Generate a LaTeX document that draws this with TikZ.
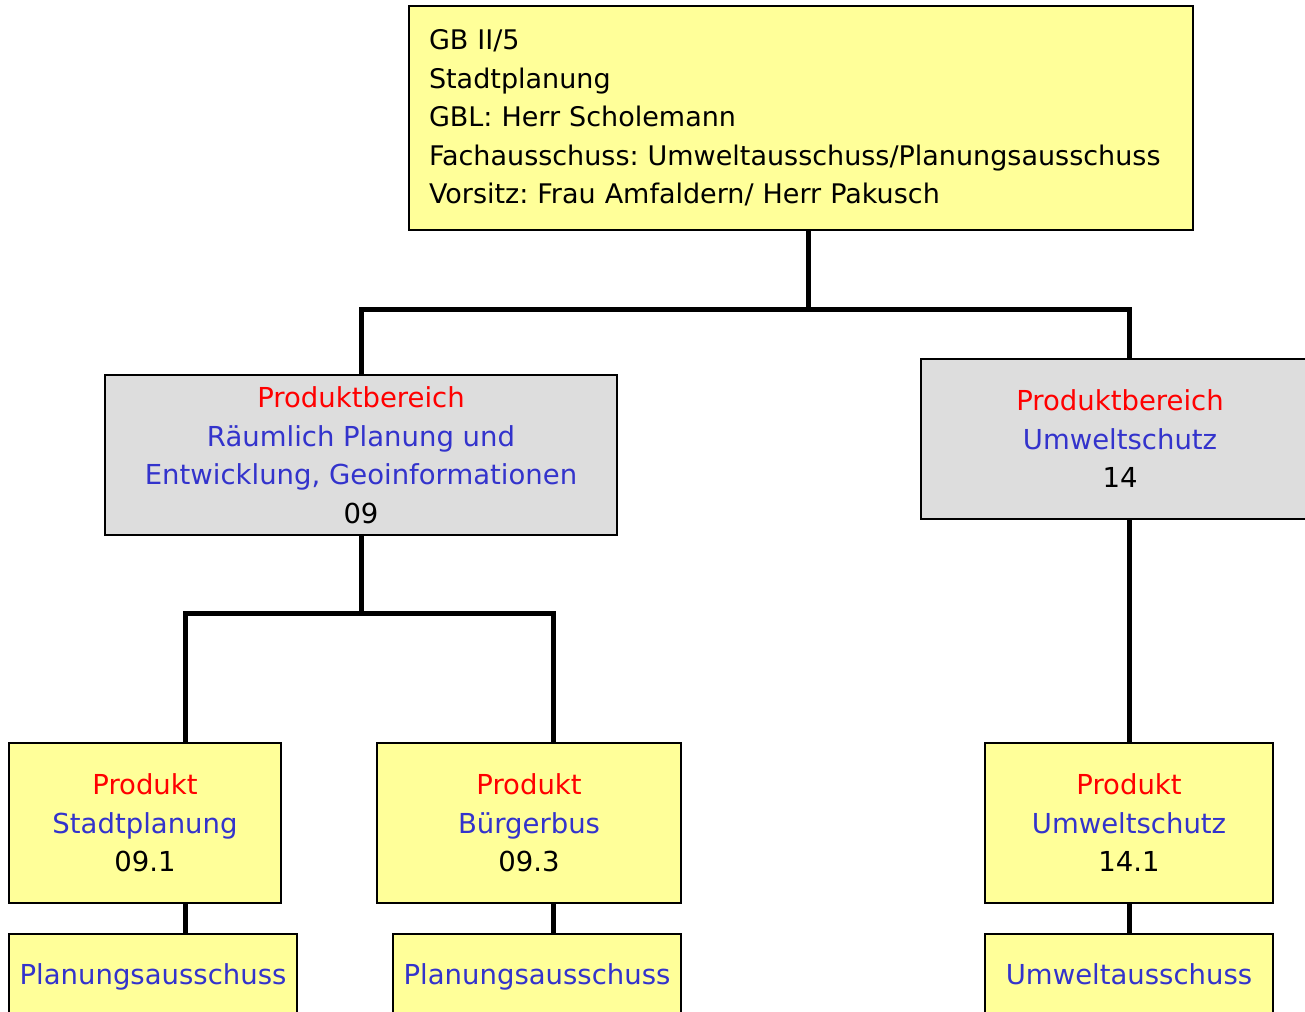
\documentclass[tikz,border=0pt]{standalone}
\usepackage{fontspec}
\setmainfont{DejaVu Sans}
\frenchspacing
\definecolor{boxyellow}{HTML}{FFFF99}
\definecolor{boxgrey}{HTML}{DDDDDD}
\definecolor{txtblue}{HTML}{3333CC}
\tikzset{
  box/.style={draw,fill=boxyellow,inner sep=0pt,align=center,
    font=\fontsize{27.5}{38.5}\selectfont},
  area/.style={box,fill=boxgrey,minimum height=160},
  conn/.style={line width=5pt}
}
\begin{document}
\begin{tikzpicture}[x=1pt,y=-1pt,line width=2pt]
  \useasboundingbox (0,0) rectangle (1305,1011);
  \clip (0,0) rectangle (1305,1011);
  % Geschaeftsbereich
  \node[box,minimum width=784,minimum height=224,text width=744,align=left,
    font=\fontsize{27}{38.5}\selectfont] (gb) at (801,118)
    {GB II/5\\Stadtplanung\\GBL: Herr Scholemann\\Fachausschuss: Umweltausschuss/Planungsausschuss\\Vorsitz: Frau Amfaldern/ Herr Pakusch};
  % Produktbereiche
  \node[area,minimum width=512] (pbl) at (361,455)
    {\textcolor{red}{Produktbereich}\\\textcolor{txtblue}{Räumlich Planung und}\\\textcolor{txtblue}{Entwicklung, Geoinformationen}\\09};
  \node[area,minimum width=398] (pbr) at (1120,439)
    {\textcolor{red}{Produktbereich}\\\textcolor{txtblue}{Umweltschutz}\\14};
  % Produkte und Ausschuesse
  \foreach \n/\x/\w/\name/\num in {ps/145/272/Stadtplanung/09.1, pb/529/304/Bürgerbus/09.3, pu/1129/288/Umweltschutz/14.1}{%
    \node[box,minimum width=\w,minimum height=160] (\n) at (\x,823)
      {\textcolor{red}{Produkt}\\\textcolor{txtblue}{\name}\\\num};
  }
  \foreach \n/\x/\name in {as/153/Planungsausschuss, ab/537/Planungsausschuss, au/1129/Umweltausschuss}{%
    \node[box,minimum width=288,minimum height=86] (\n) at (\x,977) {\strut\textcolor{txtblue}{\name}};
  }
  % Verbindungen
  \coordinate (t0) at (808,309);
  \coordinate (t1) at (361,613);
  \coordinate (x1) at (185,742);
  \coordinate (x2) at (553,742);
  \draw[conn] (gb.south -| t0) -- (t0);
  \draw[conn] (pbl.north) |- (t0) -| (pbr.north -| pu.north);
  \draw[conn] (pbl.south) -- (t1);
  \draw[conn] (x1) |- (t1) -| (x2);
  \draw[conn] (pbr.south -| pu.north) -- (pu.north);
  \draw[conn] (ps.south -| x1) -- (as.north -| x1);
  \draw[conn] (pb.south -| x2) -- (ab.north -| x2);
  \draw[conn] (pu.south) -- (au.north);
\end{tikzpicture}
\end{document}
